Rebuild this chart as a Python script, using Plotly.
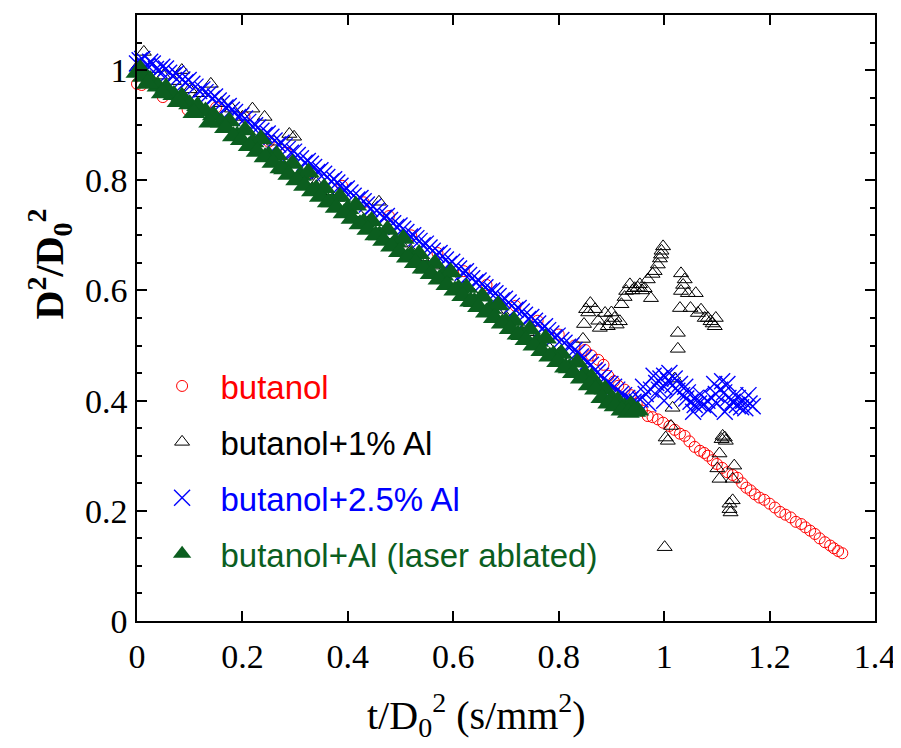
import plotly.graph_objects as go

# ---------------- data ----------------
red_x = [0.000, 0.009, 0.049, 0.096, 0.150, 0.204, 0.250, 0.283, 0.330, 0.389, 0.430, 0.478,
         0.520, 0.570, 0.620, 0.663, 0.718, 0.760, 0.800, 0.830, 0.850, 0.862, 0.875, 0.885,
         0.894, 0.905, 0.913, 0.925, 0.937, 0.948, 0.958, 0.969, 0.978, 0.988, 0.998, 1.010,
         1.020, 1.030, 1.039, 1.048, 1.058, 1.068, 1.076, 1.083, 1.092, 1.100, 1.110, 1.120,
         1.130, 1.139, 1.148, 1.156, 1.164, 1.172, 1.181, 1.190, 1.200, 1.210, 1.220, 1.230,
         1.240, 1.250, 1.260, 1.268, 1.277, 1.286, 1.295, 1.305, 1.315, 1.322, 1.330, 1.338]
red_y = [0.975, 0.973, 0.951, 0.928, 0.932, 0.915, 0.870, 0.850, 0.815, 0.790, 0.760, 0.735,
         0.700, 0.668, 0.635, 0.610, 0.572, 0.545, 0.520, 0.500, 0.492, 0.482, 0.474, 0.465,
         0.445, 0.435, 0.427, 0.420, 0.410, 0.395, 0.382, 0.372, 0.370, 0.366, 0.360, 0.354,
         0.347, 0.340, 0.336, 0.326, 0.316, 0.309, 0.305, 0.300, 0.292, 0.285, 0.278, 0.270,
         0.265, 0.260, 0.250, 0.242, 0.237, 0.230, 0.224, 0.220, 0.213, 0.206, 0.198, 0.193,
         0.188, 0.180, 0.176, 0.170, 0.164, 0.158, 0.150, 0.143, 0.137, 0.132, 0.127, 0.123]

black_x = [0.000, 0.013, 0.030, 0.050, 0.070, 0.085, 0.100, 0.120, 0.140, 0.160, 0.180, 0.200,
           0.219, 0.242, 0.260, 0.289, 0.298, 0.320, 0.340, 0.360, 0.380, 0.400, 0.420, 0.440,
           0.459, 0.480, 0.500, 0.520, 0.540, 0.560, 0.580, 0.600, 0.620, 0.640, 0.660, 0.680,
           0.700, 0.720, 0.740, 0.760, 0.780, 0.800, 0.820,
           0.846, 0.848, 0.852, 0.860, 0.869, 0.878, 0.888, 0.897, 0.906, 0.916, 0.919, 0.928,
           0.935, 0.944, 0.954, 0.963, 0.975, 0.969, 0.982, 0.988, 0.994, 0.998, 0.995, 1.026,
           1.026, 1.032, 1.039, 1.032, 1.030, 1.045, 1.060, 1.050, 1.064, 1.077, 1.088, 1.098,
           1.096, 1.020, 1.016, 1.013, 1.007, 1.003, 1.001, 1.111, 1.117, 1.105, 1.101, 1.133,
           1.105, 1.130, 1.124, 1.130, 1.126, 1.124,
           0.856, 0.875, 0.893, 0.900, 0.910, 0.925, 0.940, 0.950, 0.958, 0.978, 0.992, 1.036,
           1.070, 1.083, 1.092, 1.115, 1.109]
black_y = [1.005, 1.033, 1.002, 0.990, 0.980, 1.000, 0.965, 0.958, 0.975, 0.940, 0.930, 0.915,
           0.930, 0.915, 0.870, 0.884, 0.879, 0.808, 0.795, 0.780, 0.768, 0.752, 0.740, 0.726,
           0.761, 0.700, 0.685, 0.672, 0.660, 0.645, 0.632, 0.618, 0.605, 0.592, 0.578, 0.565,
           0.552, 0.538, 0.524, 0.512, 0.498, 0.485, 0.471,
           0.512, 0.539, 0.566, 0.577, 0.566, 0.532, 0.559, 0.544, 0.550, 0.544, 0.575, 0.599,
           0.611, 0.604, 0.611, 0.604, 0.586, 0.620, 0.635, 0.647, 0.665, 0.680, 0.672, 0.523,
           0.494, 0.631, 0.620, 0.599, 0.568, 0.595, 0.595, 0.568, 0.559, 0.550, 0.544, 0.550,
           0.535, 0.440, 0.387, 0.354, 0.327, 0.333, 0.134, 0.336, 0.327, 0.304, 0.277, 0.282,
           0.258, 0.258, 0.213, 0.219, 0.197, 0.203,
           0.560, 0.545, 0.535, 0.560, 0.538, 0.588, 0.600, 0.605, 0.600, 0.630, 0.658, 0.610,
           0.565, 0.550, 0.540, 0.333, 0.330]

blue_x = [0.000, 0.010, 0.020, 0.030, 0.042, 0.055, 0.068, 0.080, 0.092, 0.105, 0.118, 0.130,
          0.142, 0.155, 0.168, 0.180, 0.192, 0.205, 0.218, 0.230, 0.242, 0.255, 0.268, 0.280,
          0.292, 0.305, 0.318, 0.330, 0.342, 0.355, 0.368, 0.380, 0.392, 0.405, 0.418, 0.430,
          0.442, 0.455, 0.468, 0.480, 0.492, 0.505, 0.518, 0.530, 0.542, 0.555, 0.568, 0.580,
          0.592, 0.605, 0.618, 0.630, 0.642, 0.655, 0.668, 0.680, 0.692, 0.705, 0.718, 0.730,
          0.742, 0.755, 0.768, 0.780, 0.792, 0.805, 0.818, 0.830, 0.842, 0.855, 0.868, 0.880,
          0.892, 0.905, 0.918, 0.930, 0.942, 0.955, 0.965, 0.975, 0.985, 0.993, 1.000, 1.008,
          1.016, 1.025, 1.034, 1.042, 1.050, 1.058, 1.066, 1.074, 1.082, 1.090, 1.098, 1.106,
          1.114, 1.122, 1.130, 1.138, 1.146, 1.154, 1.162, 1.168,
          0.960, 0.980, 1.000, 1.020, 1.040, 1.070, 1.100, 1.120, 1.135, 1.150,
          0.005, 0.015, 0.025, 0.036, 0.048, 0.061, 0.074, 0.086, 0.098, 0.111, 0.124, 0.136,
          0.148, 0.161, 0.174, 0.186, 0.198, 0.211, 0.224, 0.236, 0.248, 0.261, 0.274, 0.286,
          0.298, 0.311, 0.324, 0.336, 0.348, 0.361, 0.374, 0.386, 0.398, 0.411, 0.424, 0.436,
          0.448, 0.461, 0.474, 0.486, 0.498, 0.511, 0.524, 0.536, 0.548, 0.561, 0.574, 0.586,
          0.598, 0.611, 0.624, 0.636, 0.648, 0.661, 0.674, 0.686, 0.698, 0.711, 0.724, 0.736,
          0.748, 0.761, 0.774, 0.786, 0.798, 0.811, 0.824, 0.836, 0.848, 0.861, 0.874, 0.886,
          0.898, 0.911, 0.924, 0.936, 0.948,
          0.970, 0.990, 1.010, 1.030, 1.045, 1.060, 1.085, 1.095, 1.110, 1.125, 1.140, 1.160,
          1.000, 1.055, 1.115]
blue_y = [1.012, 1.020, 1.008, 1.012, 1.000, 1.003, 0.990, 0.988, 0.978, 0.975, 0.962, 0.960,
          0.948, 0.945, 0.932, 0.928, 0.915, 0.912, 0.898, 0.896, 0.882, 0.879, 0.865, 0.862,
          0.850, 0.846, 0.832, 0.830, 0.815, 0.812, 0.798, 0.796, 0.782, 0.778, 0.765, 0.762,
          0.748, 0.745, 0.732, 0.728, 0.715, 0.712, 0.698, 0.695, 0.682, 0.678, 0.665, 0.662,
          0.648, 0.645, 0.632, 0.628, 0.615, 0.612, 0.598, 0.595, 0.582, 0.578, 0.565, 0.562,
          0.548, 0.545, 0.530, 0.528, 0.515, 0.510, 0.498, 0.492, 0.480, 0.470, 0.455, 0.445,
          0.432, 0.425, 0.412, 0.405, 0.398, 0.402, 0.412, 0.420, 0.432, 0.440, 0.445, 0.436,
          0.428, 0.418, 0.410, 0.404, 0.398, 0.392, 0.395, 0.392, 0.400, 0.405, 0.412, 0.420,
          0.415, 0.405, 0.398, 0.392, 0.388, 0.386, 0.395, 0.390,
          0.425, 0.445, 0.425, 0.440, 0.425, 0.410, 0.395, 0.430, 0.410, 0.400,
          1.018, 1.005, 1.015, 1.002, 1.006, 0.995, 0.994, 0.983, 0.982, 0.970, 0.965, 0.956,
          0.952, 0.940, 0.935, 0.924, 0.918, 0.906, 0.900, 0.890, 0.885, 0.872, 0.868, 0.857,
          0.852, 0.840, 0.835, 0.824, 0.818, 0.806, 0.802, 0.790, 0.785, 0.772, 0.768, 0.756,
          0.752, 0.740, 0.735, 0.722, 0.718, 0.706, 0.700, 0.690, 0.685, 0.672, 0.668, 0.656,
          0.652, 0.640, 0.635, 0.622, 0.618, 0.606, 0.600, 0.590, 0.585, 0.572, 0.568, 0.556,
          0.552, 0.540, 0.535, 0.522, 0.518, 0.505, 0.500, 0.488, 0.478, 0.465, 0.452, 0.440,
          0.430, 0.420, 0.410, 0.402, 0.398,
          0.395, 0.420, 0.450, 0.430, 0.415, 0.405, 0.385, 0.430, 0.435, 0.390, 0.405, 0.410,
          0.400, 0.380, 0.380]

green_x = [0.000, 0.006, 0.012, 0.025, 0.040, 0.055, 0.070, 0.085, 0.100, 0.115, 0.130, 0.145,
           0.160, 0.175, 0.190, 0.205, 0.220, 0.235, 0.250, 0.265, 0.280, 0.295, 0.310, 0.325,
           0.340, 0.355, 0.370, 0.385, 0.400, 0.415, 0.430, 0.445, 0.460, 0.475, 0.490, 0.505,
           0.520, 0.535, 0.550, 0.565, 0.580, 0.595, 0.610, 0.625, 0.640, 0.655, 0.670, 0.685,
           0.700, 0.715, 0.730, 0.745, 0.760, 0.775, 0.790, 0.805, 0.820, 0.835, 0.850, 0.862,
           0.875, 0.888, 0.900, 0.912, 0.925, 0.937, 0.950,
           0.020, 0.048, 0.078, 0.108, 0.138, 0.168, 0.183, 0.198, 0.213, 0.228, 0.243, 0.258,
           0.273, 0.288, 0.303, 0.318, 0.333, 0.348, 0.363, 0.378, 0.393, 0.408, 0.423, 0.438,
           0.453, 0.468, 0.483, 0.498, 0.513, 0.528, 0.543, 0.558, 0.573, 0.588, 0.603, 0.618,
           0.633, 0.648, 0.663, 0.678, 0.693, 0.708, 0.723, 0.738, 0.753, 0.768, 0.783, 0.798,
           0.813, 0.828, 0.843, 0.858, 0.870, 0.882, 0.895, 0.907, 0.920, 0.932, 0.944]
green_y = [0.995, 1.002, 0.988, 0.982, 0.970, 0.968, 0.955, 0.952, 0.938, 0.935, 0.925, 0.918,
           0.905, 0.907, 0.881, 0.891, 0.869, 0.875, 0.845, 0.846, 0.820, 0.830, 0.808, 0.814,
           0.784, 0.786, 0.760, 0.770, 0.748, 0.754, 0.724, 0.726, 0.700, 0.710, 0.688, 0.694,
           0.664, 0.666, 0.640, 0.649, 0.627, 0.633, 0.603, 0.605, 0.579, 0.589, 0.567, 0.573,
           0.543, 0.545, 0.519, 0.529, 0.507, 0.513, 0.483, 0.485, 0.459, 0.469, 0.448, 0.442,
           0.425, 0.420, 0.402, 0.400, 0.388, 0.392, 0.382,
           0.975, 0.958, 0.942, 0.922, 0.905, 0.895, 0.880, 0.873, 0.862, 0.852, 0.842, 0.832,
           0.822, 0.810, 0.800, 0.790, 0.780, 0.770, 0.760, 0.750, 0.740, 0.730, 0.720, 0.710,
           0.700, 0.690, 0.680, 0.670, 0.660, 0.650, 0.640, 0.630, 0.620, 0.610, 0.600, 0.590,
           0.580, 0.570, 0.560, 0.550, 0.540, 0.530, 0.520, 0.510, 0.500, 0.490, 0.480, 0.470,
           0.460, 0.450, 0.440, 0.428, 0.420, 0.405, 0.395, 0.390, 0.382, 0.378, 0.380]

x_ticks = [0, 0.2, 0.4, 0.6, 0.8, 1, 1.2, 1.4]
y_ticks = [0, 0.2, 0.4, 0.6, 0.8, 1]

RED = "#ff0000"
BLACK = "#000000"
BLUE = "#0000ff"
GREEN = "#0b5e1f"
NB = "\u00a0\u00a0"


def legend_name(text, color):
    return "<span style='color:" + color + "'>" + NB + text + "</span>"


fig = go.Figure()
fig.add_trace(go.Scatter(
    x=red_x, y=red_y, mode="markers", cliponaxis=False,
    name=legend_name("butanol", RED),
    marker=dict(symbol="circle-open", size=11, color=RED, line=dict(width=1, color=RED)),
    legendgroup="a"))
fig.add_trace(go.Scatter(
    x=black_x, y=black_y, mode="markers", cliponaxis=False,
    name=legend_name("butanol+1% Al", BLACK),
    marker=dict(symbol="triangle-up-open", size=13, color=BLACK, line=dict(width=1, color=BLACK)),
    legendgroup="b"))
fig.add_trace(go.Scatter(
    x=blue_x, y=blue_y, mode="markers", cliponaxis=False,
    name=legend_name("butanol+2.5% Al", BLUE),
    marker=dict(symbol="x-thin-open", size=16, color=BLUE, line=dict(width=1.4, color=BLUE)),
    legendgroup="c"))
fig.add_trace(go.Scatter(
    x=green_x, y=green_y, mode="markers", cliponaxis=False,
    name=legend_name("butanol+Al (laser ablated)", GREEN),
    marker=dict(symbol="triangle-up", size=20, color=GREEN, line=dict(width=0)),
    legendgroup="d"))

axis_common = dict(
    showline=True, linecolor="black", linewidth=1.5, mirror="ticks",
    ticks="inside", ticklen=10, tickwidth=1.5, tickcolor="black",
    showgrid=False, zeroline=False,
    tickfont=dict(family="Liberation Serif", size=34, color="black"),
)

fig.update_xaxes(range=[0, 1.4], tickvals=x_ticks, ticktext=[str(v) for v in x_ticks],
                 ticklabelstandoff=4, **axis_common)
fig.update_yaxes(range=[0, 1.1], tickvals=y_ticks, ticktext=[str(v) for v in y_ticks],
                 ticklabelstandoff=1,
                 minor=dict(dtick=0.05, tick0=0, ticks="inside", ticklen=5, tickwidth=1.5, tickcolor="black"),
                 **axis_common)

fig.add_annotation(
    text="t/D<sub>0</sub><sup>2</sup> (s/mm<sup>2</sup>)", xref="paper", yref="paper",
    x=0.46, y=0, xanchor="center", yanchor="top", yshift=-64, showarrow=False,
    font=dict(family="Liberation Serif", size=40, color="black"))
fig.add_annotation(
    text="<b>D<sup>2</sup>/D<sub>0</sub><sup>2</sup></b>", xref="paper", yref="paper",
    x=-0.118, y=0.59, xanchor="center", yanchor="middle", textangle=-90, showarrow=False,
    font=dict(family="Liberation Serif", size=40, color="black"))

fig.update_layout(
    width=893, height=740,
    margin=dict(l=129, r=23, t=5, b=127),
    paper_bgcolor="white", plot_bgcolor="white",
    showlegend=True,
    legend=dict(x=0.034, y=0.434, xanchor="left", yanchor="top",
                bgcolor="rgba(0,0,0,0)", borderwidth=0,
                font=dict(family="Liberation Sans", size=33),
                tracegroupgap=10, itemsizing="trace"),
)

fig.write_html("out.html")
